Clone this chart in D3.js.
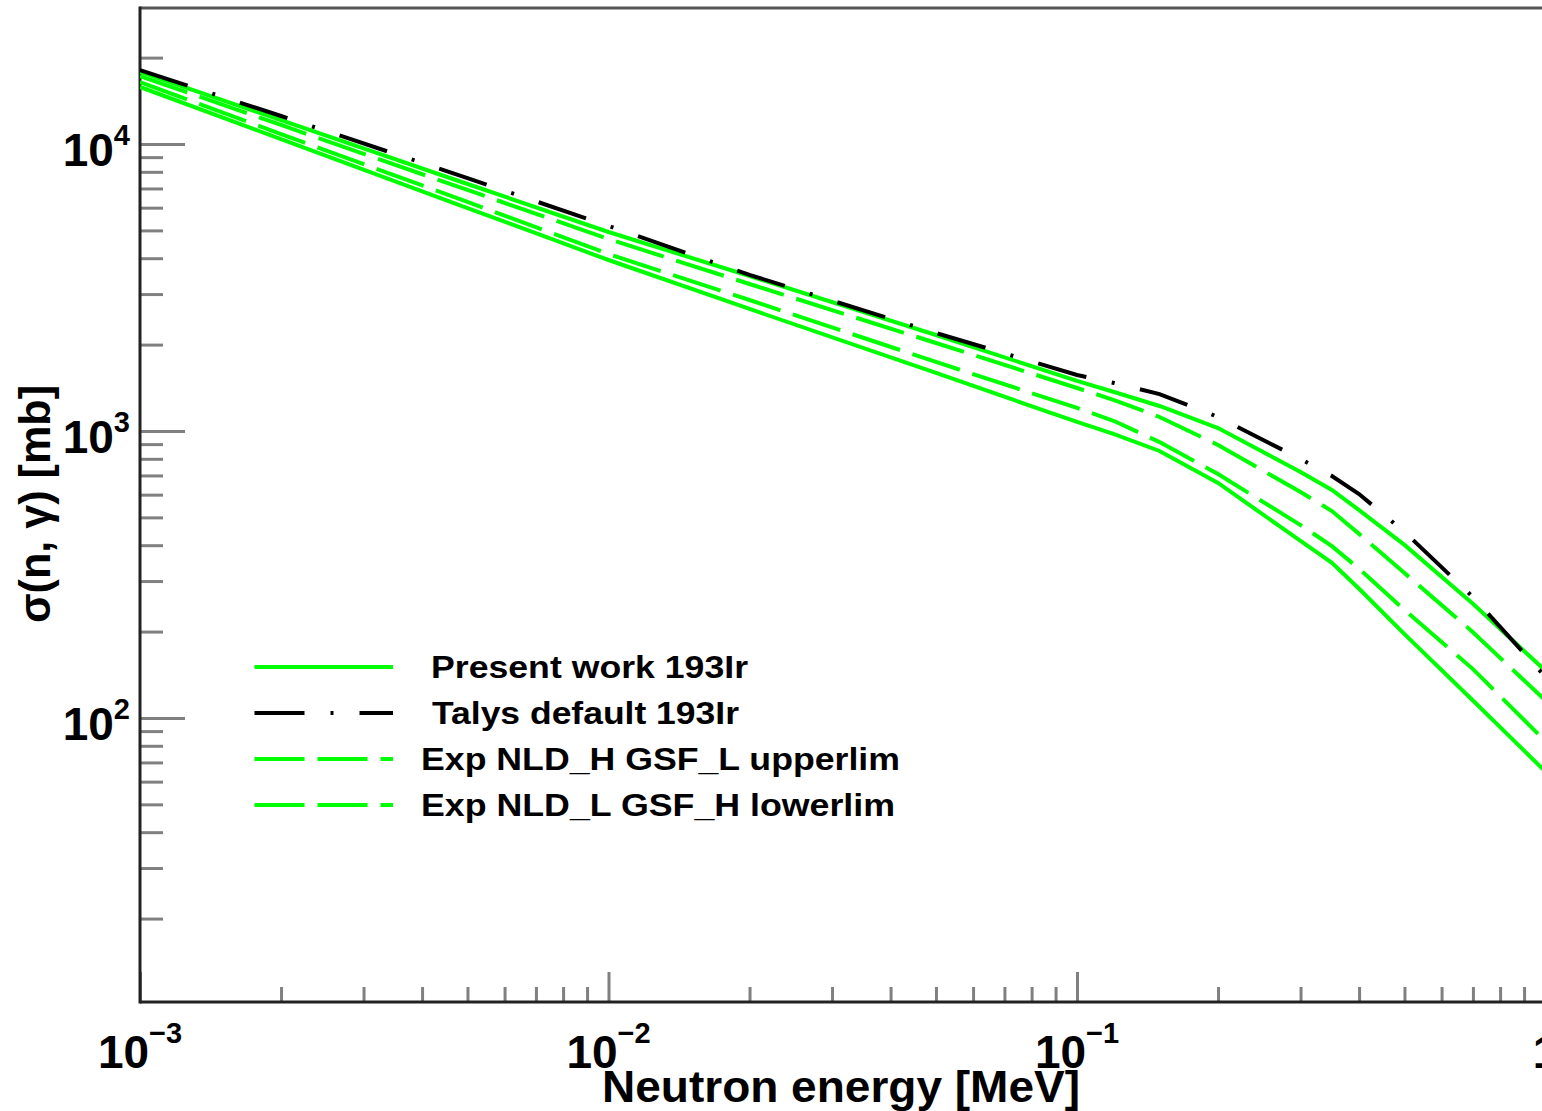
<!DOCTYPE html>
<html>
<head>
<meta charset="utf-8">
<script src="https://cdn.jsdelivr.net/npm/d3@7"></script>
<style>
  body { margin: 0; background: #fff; }
  svg { display: block; }
  text { font-family: "Liberation Sans", Arial, sans-serif; font-weight: bold; fill: #000; }
</style>
</head>
<body>
<svg id="chart" width="1542" height="1111"></svg>
<script>
// neutron energy grid [MeV]
const energy = [0.001, 0.002, 0.005, 0.01, 0.02, 0.05, 0.1, 0.12, 0.15, 0.2, 0.3, 0.35, 0.4, 0.5, 0.7, 1.0];

// cross sections [mb]
const presentUpper = [17820, 12120, 7255, 4936, 3468, 2160, 1494, 1367, 1222, 1024, 720, 623, 530, 401, 250, 146];
const presentLower = [15800, 10400, 5984, 3943, 2662, 1593, 1075, 976, 852, 659, 414, 347, 282, 196, 115, 65];
const talysDefault = [18100, 12520, 7610, 5180, 3500, 2195, 1567, 1470, 1345, 1119, 799, 697, 603, 445, 264, 139];
const upperLim = [17250, 11650, 6915, 4667, 3252, 2026, 1412, 1282, 1119, 894, 613, 526, 438, 320, 199, 115];
const lowerLim = [16440, 10830, 6280, 4137, 2860, 1740, 1203, 1083, 915, 708, 470, 397, 331, 238, 148, 83];

const legendLabels = ["Present work 193Ir", "Talys default 193Ir", "Exp NLD_H GSF_L upperlim", "Exp NLD_L GSF_H lowerlim"];
const xMajor = [1e-3, 1e-2, 1e-1, 1];
const xMajorLabels = [["10", "\u22123"], ["10", "\u22122"], ["10", "\u22121"], ["1", ""]];
const yMajor = [1e2, 1e3, 1e4];
const yMajorLabels = [["10", "2"], ["10", "3"], ["10", "4"]];

const padLeft = 140, padTop = 8, padBottom = 1002, padRight = 1545.5;

const svg = d3.select("#chart");
const x = d3.scaleLog().domain([1e-3, 1]).range([padLeft, padRight]);
const y = d3.scaleLog().domain([10.24, 29780]).range([padBottom, padTop]);

// minor tick values
const xMinor = [];
[-3, -2, -1].forEach(d => { for (let k = 2; k <= 9; k++) xMinor.push(k * Math.pow(10, d)); });
const yMinor = [];
[1, 2, 3, 4].forEach(d => {
  for (let k = 2; k <= 9; k++) {
    const v = k * Math.pow(10, d);
    if (v > y.domain()[0] && v < y.domain()[1]) yMinor.push(v);
  }
});

function tickAxis(axis, tr) {
  const g = svg.append("g").attr("transform", tr).call(axis);
  g.select(".domain").remove();
  g.selectAll("line").attr("stroke", "#808080").attr("stroke-width", 3);
  g.selectAll("text").remove();
}
tickAxis(d3.axisBottom(x).tickValues(xMinor).tickSize(-15).tickFormat(""), `translate(0,${padBottom})`);
tickAxis(d3.axisBottom(x).tickValues(xMajor).tickSize(-30).tickFormat(""), `translate(0,${padBottom})`);
tickAxis(d3.axisLeft(y).tickValues(yMinor).tickSize(-23).tickFormat(""), `translate(${padLeft},0)`);
tickAxis(d3.axisLeft(y).tickValues(yMajor).tickSize(-45).tickFormat(""), `translate(${padLeft},0)`);

// frame
svg.append("line").attr("x1", padLeft).attr("x2", padRight).attr("y1", padTop).attr("y2", padTop)
  .attr("stroke", "#555").attr("stroke-width", 3);
svg.append("line").attr("x1", padLeft).attr("x2", padLeft).attr("y1", padTop - 1.5).attr("y2", padBottom + 1.5)
  .attr("stroke", "#222").attr("stroke-width", 3);
svg.append("line").attr("x1", padLeft).attr("x2", padRight).attr("y1", padBottom).attr("y2", padBottom)
  .attr("stroke", "#222").attr("stroke-width", 3);

// curves
svg.append("clipPath").attr("id", "plotclip").append("rect")
  .attr("x", padLeft).attr("y", padTop).attr("width", padRight - padLeft).attr("height", padBottom - padTop);

const line = d3.line().x(d => x(d[0])).y(d => y(d[1]));
const series = [
  { values: presentUpper, color: "#00ff00", dash: null },
  { values: presentLower, color: "#00ff00", dash: null },
  { values: upperLim, color: "#00ff00", dash: "50,13" },
  { values: lowerLim, color: "#00ff00", dash: "50,13" },
  { values: talysDefault, color: "#000", dash: "50,26,3,26" }
];
const plot = svg.append("g").attr("clip-path", "url(#plotclip)");
series.forEach(s => {
  plot.append("path")
    .datum(energy.map((e, i) => [e, s.values[i]]))
    .attr("d", line)
    .attr("fill", "none")
    .attr("stroke", s.color)
    .attr("stroke-width", 4)
    .attr("stroke-dasharray", s.dash);
});

// tick labels
xMajor.forEach((v, i) => {
  const t = svg.append("text").attr("x", x(v)).attr("y", 1068)
    .attr("text-anchor", "middle").attr("font-size", 46);
  t.append("tspan").text(xMajorLabels[i][0]);
  if (xMajorLabels[i][1]) t.append("tspan").attr("dy", -25).attr("font-size", 29).text(xMajorLabels[i][1]);
});
yMajor.forEach((v, i) => {
  const t = svg.append("text").attr("x", 130).attr("y", y(v) + 22)
    .attr("text-anchor", "end").attr("font-size", 46);
  t.append("tspan").text(yMajorLabels[i][0]);
  t.append("tspan").attr("dy", -21).attr("font-size", 29).text(yMajorLabels[i][1]);
});

// axis titles
svg.append("text").attr("x", 841).attr("y", 1102).attr("text-anchor", "middle")
  .attr("font-size", 44).attr("textLength", 478).attr("lengthAdjust", "spacingAndGlyphs")
  .text("Neutron energy [MeV]");
svg.append("text").attr("transform", "translate(50,504) rotate(-90)").attr("text-anchor", "middle")
  .attr("font-size", 44).attr("textLength", 238).attr("lengthAdjust", "spacingAndGlyphs")
  .text("\u03c3(n, \u03b3) [mb]");

// legend
const legendStyles = [series[0], series[4], series[2], series[3]];
const legendY = [667, 713, 759, 805];
const legendTextX = [431, 432, 421, 421];
const legendTextW = [317, 307, 479, 474];
legendLabels.forEach((lab, i) => {
  svg.append("line").attr("x1", 254.5).attr("x2", 393).attr("y1", legendY[i]).attr("y2", legendY[i])
    .attr("stroke", legendStyles[i].color).attr("stroke-width", 4)
    .attr("stroke-dasharray", legendStyles[i].dash);
  svg.append("text").attr("x", legendTextX[i]).attr("y", legendY[i] + 11)
    .attr("font-size", 31).attr("textLength", legendTextW[i]).attr("lengthAdjust", "spacingAndGlyphs")
    .text(lab);
});
</script>
</body>
</html>
